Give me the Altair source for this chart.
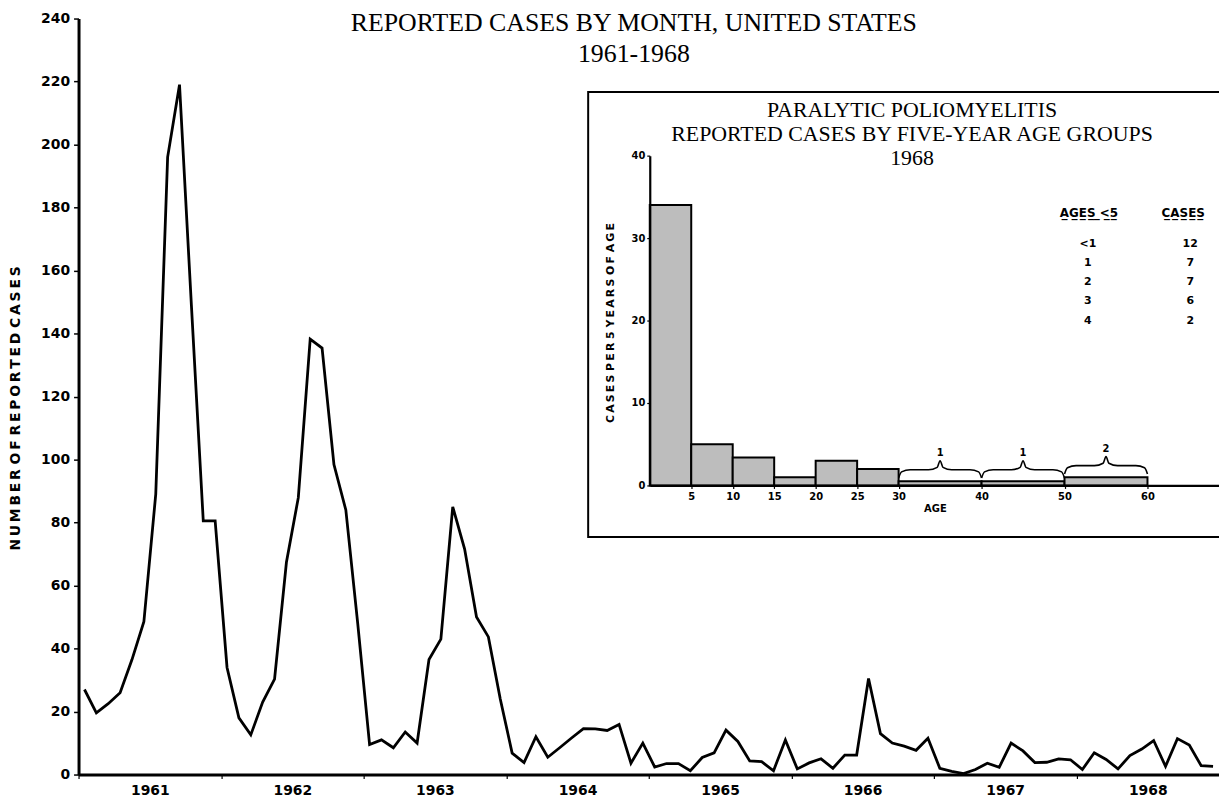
import altair as alt
import pandas as pd

# ---------------- data ----------------
YEARS = [1961, 1962, 1963, 1964, 1965, 1966, 1967, 1968]
CASES_1961 = [27, 19.6, 22.5, 26, 36.5, 48.5, 89, 196, 219, 149, 80.5, 80.5]
CASES_1962 = [34, 18, 12.6, 23, 30.3, 67.4, 87.9, 138.2, 135.4, 98.4, 84, 48]
CASES_1963 = [9.5, 11, 8.5, 13.5, 10, 36.5, 43, 85, 71.6, 50, 43.7, 24]
CASES_1964 = [6.8, 3.8, 12, 5.5, 8.5, 11.6, 14.6, 14.5, 14, 15.9, 3.6, 10]
CASES_1965 = [2.4, 3.5, 3.5, 1.2, 5.4, 6.9, 14.1, 10.5, 4.3, 4.1, 1.2, 11]
CASES_1966 = [1.8, 3.7, 5, 2, 6.2, 6.2, 30.5, 13, 10, 9, 7.7, 11.5]
CASES_1967 = [2, 1, 0.3, 1.6, 3.6, 2.3, 10, 7.5, 3.8, 3.9, 5, 4.7]
CASES_1968 = [1.6, 6.9, 4.8, 1.8, 6, 8.1, 10.8, 2.6, 11.4, 9.4, 2.8, 2.6]
Y_TICKS = list(range(0, 241, 20))

AGE_START = [0, 5, 10, 15, 20, 25, 30, 40, 50]
AGE_END = [5, 10, 15, 20, 25, 30, 40, 50, 60]
CASES_PER_5Y = [34, 5, 3.4, 1, 3, 2, 0.5, 0.5, 1]
AGE_TICKS = [5, 10, 15, 20, 25, 30, 40, 50, 60, 70]
INSET_Y_TICKS = [0, 10, 20, 30, 40]

BRACE_START = [30, 40, 50]
BRACE_END = [40, 50, 60]
BRACE_LABEL = ["1", "1", "2"]

AGES_UNDER5 = ["<1", "1", "2", "3", "4"]
CASES_UNDER5 = [12, 7, 7, 6, 2]

MAIN_TITLE = ["REPORTED CASES BY MONTH, UNITED STATES", "1961-1968"]
INSET_TITLE = ["PARALYTIC POLIOMYELITIS", "REPORTED CASES BY FIVE-YEAR AGE GROUPS", "1968"]


def spaced(text, gap="\u2009", word_gap="   "):
    return word_gap.join(gap.join(w) for w in text.split(" "))


def underlined(text):
    return "".join(ch + "\u0332" for ch in text)


# ---------------- layout ----------------
PAD_L, PAD_T, PAD_R, PAD_B = 71, 8, 0, 22
W, H = 1148, 761
INSET_X_RANGE = [575, 1159.5]
INSET_Y_RANGE = [470, 138]
SANS = "DejaVu Sans"
SERIF = "Liberation Serif"

# ---------------- tables ----------------
rows = []
for yr, vals in zip(YEARS, [CASES_1961, CASES_1962, CASES_1963, CASES_1964,
                            CASES_1965, CASES_1966, CASES_1967, CASES_1968]):
    for m, v in enumerate(vals):
        rows.append({"t": yr + (m + 0.5) / 12, "cases": v})
monthly = pd.DataFrame(rows)

bars_df = pd.DataFrame({"a0": AGE_START, "a1": AGE_END, "v": CASES_PER_5Y})

brace_rows, brace_text = [], []
for k, (a, b, lab) in enumerate(zip(BRACE_START, BRACE_END, BRACE_LABEL)):
    bar_v = CASES_PER_5Y[AGE_START.index(a)]
    base = bar_v + 0.4
    half = (b - a) / 2
    left = [(0, 0), (0.35, 0.75), (1.4, 1.0), (half - 1.4, 1.0), (half - 0.35, 1.3), (half, 2.1)]
    pts = left + [(b - a - dx, dy) for dx, dy in reversed(left[:-1])]
    for j, (dx, dy) in enumerate(pts):
        brace_rows.append({"brace": k, "j": j, "age": a + dx, "h": base + dy})
    brace_text.append({"age": a + half, "h": base + 3.0, "label": lab})
brace_df = pd.DataFrame(brace_rows)
brace_lab_df = pd.DataFrame(brace_text)

legend_df = pd.DataFrame({"age": AGES_UNDER5, "cases": CASES_UNDER5,
                          "row": list(range(1, len(AGES_UNDER5) + 1))})
one = pd.DataFrame({"k": [0]})

# ---------------- main chart ----------------
main_x = alt.X(
    "t:Q",
    scale=alt.Scale(domain=[1961, 1969], nice=False, zero=False),
    axis=alt.Axis(values=YEARS, format="d", labelOffset=W / 16, title=None, orient="bottom",
                  labelFont=SANS, labelFontSize=14, labelFontWeight="bold", labelColor="black",
                  labelPadding=5, tickSize=4, tickWidth=1.2, tickColor="black",
                  domainWidth=3, domainColor="black", labelOverlap=False, labelFlush=False,
                  labelBound=False, grid=False, zindex=1),
)
main_y = alt.Y(
    "cases:Q",
    scale=alt.Scale(domain=[0, 240], nice=False, zero=True),
    axis=alt.Axis(values=Y_TICKS, orient="left",
                  title=spaced("NUMBER OF REPORTED CASES", word_gap="    "),
                  titleFont=SANS, titleFontSize=14, titleFontWeight="bold", titleColor="black",
                  titleX=-63, titleY=392, titleAlign="center", titleBaseline="middle", titleAngle=270,
                  labelFont=SANS, labelFontSize=14, labelFontWeight="bold", labelColor="black",
                  labelPadding=4, tickSize=5, tickWidth=1.5, tickColor="black",
                  domainWidth=3, domainColor="black", grid=False, zindex=1),
)
line = alt.Chart(monthly).mark_line(color="black", strokeWidth=2.8).encode(x=main_x, y=main_y)

main_title = alt.Chart(one).mark_text(
    font=SERIF, fontSize=26, lineHeight=31, align="center", baseline="alphabetic", color="black"
).encode(x=alt.value(559), y=alt.value(13), text=alt.value(MAIN_TITLE))

# ---------------- inset ----------------
frame = alt.Chart(one).mark_rect(fill="white", stroke="black", strokeWidth=2).encode(
    x=alt.value(513), x2=alt.value(1175), y=alt.value(74), y2=alt.value(522))

inset_x_axis = alt.Axis(values=AGE_TICKS, orient="bottom", offset=INSET_Y_RANGE[0] - H, title="AGE",
                        titleFont=SANS, titleFontSize=10, titleFontWeight="bold", titleColor="black",
                        titleX=862, titleY=23, titleBaseline="middle",
                        labelFont=SANS, labelFontSize=10, labelFontWeight="bold", labelColor="black",
                        labelPadding=3, tickSize=3, tickWidth=1.2, tickColor="black",
                        domainWidth=2.2, domainColor="black", labelOverlap=False, labelFlush=False,
                        labelBound=False, grid=False, zindex=1)
inset_y_axis = alt.Axis(values=INSET_Y_TICKS, orient="left", offset=-INSET_X_RANGE[0],
                        title=spaced("CASES PER 5 YEARS OF AGE", word_gap="  "),
                        titleFont=SANS, titleFontSize=11, titleFontWeight="bold", titleColor="black",
                        titleX=-39, titleY=306, titleAlign="center", titleBaseline="middle", titleAngle=270,
                        labelFont=SANS, labelFontSize=10, labelFontWeight="bold", labelColor="black",
                        labelPadding=2, tickSize=3, tickWidth=1.2, tickColor="black",
                        domainWidth=2.2, domainColor="black", grid=False, zindex=1)
ix_scale = alt.Scale(domain=[0, 70], range=INSET_X_RANGE, nice=False, zero=False)
iy_scale = alt.Scale(domain=[0, 40], range=INSET_Y_RANGE, nice=False, zero=True)

bars = alt.Chart(bars_df).mark_rect(fill="#bdbdbd", stroke="black", strokeWidth=2).encode(
    x=alt.X("a0:Q", scale=ix_scale, axis=inset_x_axis),
    x2="a1:Q",
    y=alt.Y("v:Q", scale=iy_scale, axis=inset_y_axis),
    y2=alt.datum(0),
)
braces = alt.Chart(brace_df).mark_line(color="black", strokeWidth=1.6, interpolate="monotone").encode(
    x=alt.X("age:Q", scale=ix_scale, axis=inset_x_axis),
    y=alt.Y("h:Q", scale=iy_scale, axis=inset_y_axis),
    detail="brace:N",
    order="j:Q",
)
brace_labels = alt.Chart(brace_lab_df).mark_text(
    font=SANS, fontSize=10, fontWeight="bold", color="black", baseline="middle"
).encode(
    x=alt.X("age:Q", scale=ix_scale, axis=inset_x_axis),
    y=alt.Y("h:Q", scale=iy_scale, axis=inset_y_axis),
    text="label:N",
)
inset = alt.layer(bars, braces, brace_labels)

inset_title = alt.Chart(one).mark_text(
    font=SERIF, fontSize=22, lineHeight=24.2, align="center", baseline="alphabetic", color="black"
).encode(x=alt.value(839), y=alt.value(99), text=alt.value(INSET_TITLE))

hdr_style = dict(font=SANS, fontSize=12, fontWeight="bold", color="black", baseline="middle", align="center")
hdr_ages = alt.Chart(one).mark_text(**hdr_style).encode(
    x=alt.value(1017), y=alt.value(196), text=alt.value(underlined("AGES <5")))
hdr_cases = alt.Chart(one).mark_text(**hdr_style).encode(
    x=alt.value(1112), y=alt.value(196), text=alt.value(underlined("CASES")))

row_y = alt.Y("row:Q", scale=alt.Scale(domain=[1, 5], range=[227, 304], nice=False, zero=False), axis=None)
cell_style = dict(font=SANS, fontSize=11, fontWeight="bold", color="black", baseline="middle", align="center")
col_ages = alt.Chart(legend_df).mark_text(**cell_style).encode(x=alt.value(1016), y=row_y, text="age:N")
col_cases = alt.Chart(legend_df).mark_text(**cell_style).encode(x=alt.value(1119), y=row_y, text="cases:Q")
legend_rows = alt.layer(col_ages, col_cases)

chart = alt.layer(
    line, main_title, frame, inset, inset_title, hdr_ages, hdr_cases, legend_rows
).resolve_scale(
    x="independent", y="independent"
).properties(
    width=W, height=H,
    autosize=alt.AutoSizeParams(type="none"),
    padding={"left": PAD_L, "top": PAD_T, "right": PAD_R, "bottom": PAD_B},
    background="white",
).configure_view(stroke=None)

chart.save("out.html", embed_options={"renderer": "svg", "actions": False})
